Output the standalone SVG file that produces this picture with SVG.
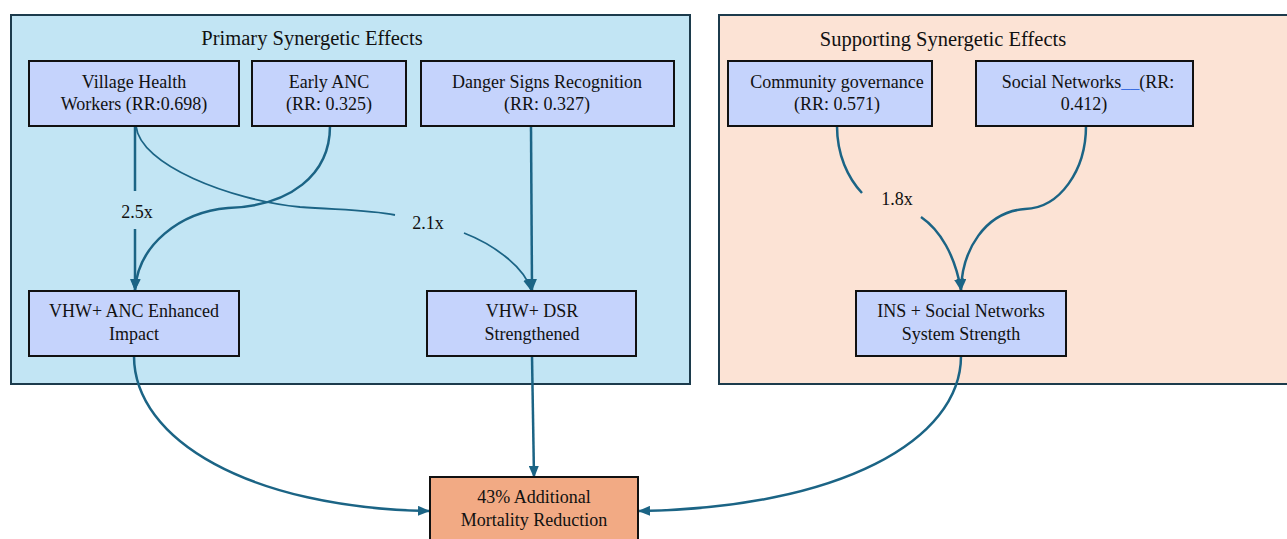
<svg xmlns="http://www.w3.org/2000/svg" width="1287" height="539" viewBox="0 0 1287 539">
<style>
text{font-family:"Liberation Serif","DejaVu Serif","Times New Roman",serif;font-size:18px;fill:#111;text-anchor:middle}
.title{font-size:20.5px}
.node{fill:#c5d3fc;stroke:#111;stroke-width:2}
.final{fill:#f2aa84;stroke:#111;stroke-width:2}
.edge{fill:none;stroke:#1b6485;stroke-width:2.5}
.thin{stroke-width:1.8}
</style>
<defs>
<marker id="ah" viewBox="0 0 12 10" refX="11" refY="5" markerWidth="12" markerHeight="10" markerUnits="userSpaceOnUse" orient="auto">
<path d="M0,0 L12,5 L0,10 Z" fill="#1b6485"/>
</marker>
</defs>
<g id="cluster-primary">
<rect x="11" y="15" width="679" height="369" fill="#c2e5f4" stroke="#1c3b4c" stroke-width="2"/>
<text class="title" x="312" y="45">Primary Synergetic Effects</text>
</g>
<g id="cluster-supporting">
<rect x="719" y="15" width="575" height="369" fill="#fce3d5" stroke="#1c3b4c" stroke-width="2"/>
<text class="title" x="943" y="46">Supporting Synergetic Effects</text>
</g>
<g id="edges">
<path class="edge" d="M135,126 L135,191"/>
<path class="edge" d="M135,229 L135,290" marker-end="url(#ah)"/>
<text x="137" y="218">2.5x</text>
<path class="edge" d="M330,126 C330,175 290,206 228,208 C180,212 138,245 135,290" marker-end="url(#ah)"/>
<path class="edge thin" d="M136,126 C140,165 230,200 300,207 C340,210 370,210 395,215"/>
<text x="428" y="229">2.1x</text>
<path class="edge thin" d="M464,233 C495,245 525,268 531,290" marker-end="url(#ah)"/>
<path class="edge" d="M531,126 L532,290" marker-end="url(#ah)"/>
<path class="edge" d="M837,126 C837,155 848,178 862,193"/>
<text x="897" y="205">1.8x</text>
<path class="edge" d="M921,217 C940,230 955,255 961,290" marker-end="url(#ah)"/>
<path class="edge" d="M1086,126 C1086,170 1060,208 1025,209 C985,212 962,250 961,290" marker-end="url(#ah)"/>
<path class="edge" d="M134,356 C134,440 250,508 429,511" marker-end="url(#ah)"/>
<path class="edge" d="M532,356 L534,477" marker-end="url(#ah)"/>
<path class="edge" d="M961,356 C961,440 840,508 639,511" marker-end="url(#ah)"/>
</g>
<g id="node-vhw">
<rect class="node" x="29" y="61" width="210" height="65"/>
<text x="134" y="88">Village Health</text>
<text x="134" y="110">Workers (RR:0.698)</text>
</g>
<g id="node-anc">
<rect class="node" x="252" y="61" width="154" height="65"/>
<text x="329" y="88">Early ANC</text>
<text x="329" y="110">(RR: 0.325)</text>
</g>
<g id="node-dsr">
<rect class="node" x="421" y="61" width="253" height="65"/>
<text x="547" y="88">Danger Signs Recognition</text>
<text x="547" y="110">(RR: 0.327)</text>
</g>
<g id="node-gov">
<rect class="node" x="728" y="61" width="204" height="65"/>
<text x="837" y="88">Community governance</text>
<text x="837" y="110">(RR: 0.571)</text>
</g>
<g id="node-social">
<rect class="node" x="976" y="61" width="217" height="65"/>
<text x="1088" y="88">Social Networks<tspan fill="#3b6ee0">__</tspan>(RR:</text>
<text x="1084" y="110">0.412)</text>
</g>
<g id="node-vhw-anc">
<rect class="node" x="29" y="291" width="210" height="65"/>
<text x="134" y="317">VHW+ ANC Enhanced</text>
<text x="134" y="340">Impact</text>
</g>
<g id="node-vhw-dsr">
<rect class="node" x="427" y="291" width="209" height="65"/>
<text x="532" y="317">VHW+ DSR</text>
<text x="532" y="340">Strengthened</text>
</g>
<g id="node-ins">
<rect class="node" x="856" y="291" width="210" height="65"/>
<text x="961" y="317">INS + Social Networks</text>
<text x="961" y="340">System Strength</text>
</g>
<g id="node-final">
<rect class="final" x="430" y="477" width="208" height="68"/>
<text x="534" y="503">43% Additional</text>
<text x="534" y="526">Mortality Reduction</text>
</g>
</svg>
